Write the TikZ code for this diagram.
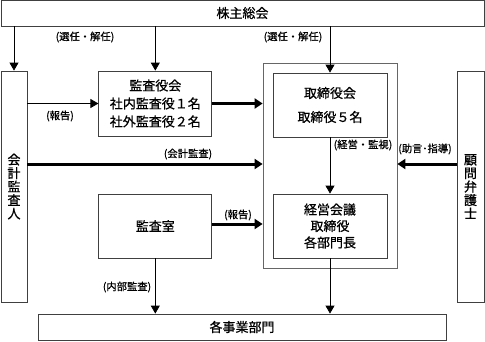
\documentclass[tikz,border=0pt]{standalone}
\usepackage{fontspec}
\setmainfont{Noto Sans CJK JP}
\newfontfamily\medfont[FakeBold=0.8]{Noto Sans CJK JP}
\usetikzlibrary{arrows.meta}
\begin{document}
\begin{tikzpicture}[x=1pt,y=-1pt,
  box/.style={draw=black!75,line width=0.8pt,inner sep=0pt,align=center,
    font=\medfont\fontsize{13}{18}\selectfont},
  lbl/.style={font=\medfont\fontsize{10.3}{12}\selectfont,inner sep=0pt},
  thinarrow/.style={draw=black,line width=0.8pt,-{Triangle[width=9pt,length=8pt]}},
  thickarrow/.style={draw=black,line width=3pt,-{Triangle[width=10pt,length=8pt]}}]
\useasboundingbox (0,0) rectangle (485,341);
% boxes
\node[box,minimum width=483pt,minimum height=26pt] (top) at (242.5,13) {株主総会};
\node[box,minimum width=26pt,minimum height=231pt,font=\medfont\fontsize{13}{13.5}\selectfont] (kaikei) at (14,186.5) {会\\計\\監\\査\\人};
\node[box,minimum width=27pt,minimum height=231pt,font=\medfont\fontsize{13}{13.5}\selectfont] (komon) at (470.5,186.5) {顧\\問\\弁\\護\\士};
\node[box,minimum width=113pt,minimum height=65pt] (kansayaku) at (155.3,103.5) {監査役会\\社内監査役１名\\社外監査役２名};
\node[box,draw=black!60,minimum width=134pt,minimum height=205pt] (outer) at (330,165.5) {};
\node[box,minimum width=114pt,minimum height=64pt,font=\medfont\fontsize{13}{24}\selectfont] (torishimari) at (330,105) {取締役会\\取締役５名};
\node[box,minimum width=114pt,minimum height=64pt,font=\medfont\fontsize{13}{16.5}\selectfont] (keiei) at (330,226) {経営会議\\取締役\\各部門長};
\node[box,minimum width=113pt,minimum height=64pt] (kansashitsu) at (155.3,226) {監査室};
\node[box,minimum width=408pt,minimum height=26pt] (jigyo) at (242,327) {各事業部門};
% arrows
\draw[thinarrow] (top.south -| kaikei) -- (kaikei.north);
\draw[thinarrow] (top.south -| kansayaku) -- (kansayaku.north);
\draw[thinarrow] (top.south -| torishimari) -- (torishimari.north);
\draw[thinarrow] (kaikei.east |- kansayaku) -- (kansayaku.west);
\draw[thickarrow] (kansayaku.east) -- (outer.west |- kansayaku);
\draw[thickarrow] (kaikei.east |- 0,164) -- (outer.west |- 0,164);
\draw[thickarrow] (komon.west |- 0,164) -- (outer.east |- 0,164);
\draw[thinarrow] (torishimari.south) -- (keiei.north);
\draw[thickarrow] (kansashitsu.east |- 0,224) -- (outer.west |- 0,224);
\draw[thinarrow] (kansashitsu.south) -- (jigyo.north -| kansashitsu);
\draw[thinarrow] (keiei.south) -- (jigyo.north -| keiei);
% labels
\node[lbl] (l1) at (85,37) {(選任・解任)};
\node[lbl] (l2) at (293,37) {(選任・解任)};
\node[lbl] (l3) at (60,116) {(報告)};
\node[lbl] (l4) at (188,154) {(会計監査)};
\node[lbl] (l5) at (425,149) {(助言･指導)};
\node[lbl] (l6) at (363,145) {(経営・監視)};
\node[lbl] (l7) at (238,215) {(報告)};
\node[lbl] (l8) at (127,287) {(内部監査)};
\end{tikzpicture}
\end{document}
